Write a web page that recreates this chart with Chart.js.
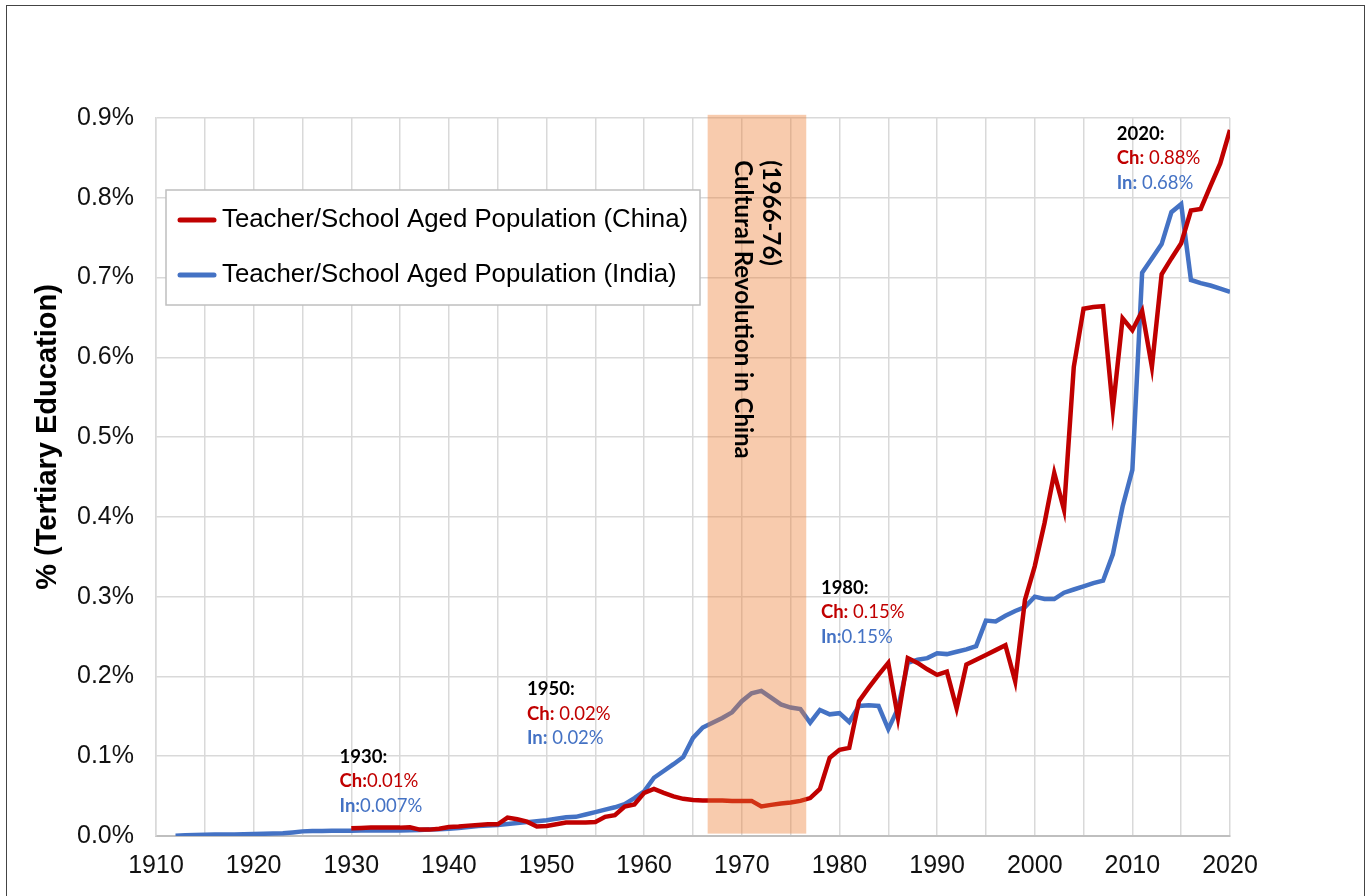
<!DOCTYPE html>
<html>
<head>
<meta charset="utf-8">
<script src="https://cdn.jsdelivr.net/npm/chart.js@4.4.1/dist/chart.umd.min.js"></script>
<style>
  html, body { margin: 0; padding: 0; background: #fff; }
  #wrap { position: relative; width: 1371px; height: 896px; overflow: hidden; }
  #frame { position: absolute; left: 6px; top: 5px; width: 1359px; height: 900px; border: 1px solid #444; box-sizing: border-box; pointer-events: none; }
  canvas { position: absolute; left: 0; top: 0; }
</style>
</head>
<body>
<div id="wrap">
  <canvas id="chart" width="1371" height="896"></canvas>
  <div id="frame"></div>
</div>
<script>
// years 1912..2020
var years = [1912,1913,1914,1915,1916,1917,1918,1919,1920,1921,1922,1923,1924,1925,1926,1927,1928,1929,
  1930,1931,1932,1933,1934,1935,1936,1937,1938,1939,1940,1941,1942,1943,1944,1945,1946,1947,1948,1949,
  1950,1951,1952,1953,1954,1955,1956,1957,1958,1959,1960,1961,1962,1963,1964,1965,1966,1967,1968,1969,
  1970,1971,1972,1973,1974,1975,1976,1977,1978,1979,1980,1981,1982,1983,1984,1985,1986,1987,1988,1989,
  1990,1991,1992,1993,1994,1995,1996,1997,1998,1999,2000,2001,2002,2003,2004,2005,2006,2007,2008,2009,
  2010,2011,2012,2013,2014,2015,2016,2017,2018,2019,2020];

// % teachers / school aged population
var china = [null,null,null,null,null,null,null,null,null,null,null,null,null,null,null,null,null,null,
  0.0096,0.0100,0.0105,0.0105,0.0105,0.0105,0.0110,0.0080,0.0080,0.0090,0.0113,0.0120,0.0130,0.0138,0.0147,0.0147,0.0230,0.0210,0.0180,0.0120,
  0.0126,0.0147,0.0168,0.0170,0.0170,0.0176,0.0240,0.0260,0.0370,0.0395,0.0540,0.0590,0.0540,0.0496,0.0466,0.0450,0.0445,0.0445,0.0445,0.0440,
  0.0440,0.0440,0.0370,0.0390,0.0408,0.0420,0.0440,0.0475,0.0590,0.0980,0.1080,0.1105,0.169,0.186,0.202,0.217,0.148,0.223,0.217,0.209,
  0.202,0.206,0.160,0.215,0.221,0.227,0.233,0.239,0.194,0.296,0.338,0.392,0.455,0.409,0.588,0.661,0.663,0.664,0.535,0.649,
  0.634,0.658,0.588,0.704,0.724,0.743,0.784,0.786,0.815,0.843,0.885];

var india = [0.0004,0.0008,0.0012,0.0017,0.0018,0.0019,0.0020,0.0022,0.0025,0.0028,0.0031,0.0034,0.0045,0.0058,0.0063,0.0064,0.0065,0.0066,
  0.0067,0.0068,0.0068,0.0069,0.0069,0.0070,0.0073,0.0076,0.0080,0.0086,0.0092,0.0100,0.0113,0.0126,0.0132,0.0138,0.0150,0.0162,0.0174,0.0185,
  0.0197,0.0215,0.0235,0.0240,0.0270,0.0300,0.0330,0.0360,0.0400,0.0475,0.056,0.073,0.0815,0.090,0.099,0.123,0.136,0.142,0.148,0.155,
  0.169,0.179,0.182,0.1735,0.165,0.161,0.159,0.142,0.158,0.1525,0.154,0.143,0.163,0.164,0.163,0.134,0.160,0.217,0.221,0.223,
  0.229,0.228,0.231,0.234,0.238,0.270,0.269,0.276,0.282,0.287,0.300,0.297,0.297,0.305,0.309,0.313,0.317,0.320,0.353,0.413,
  0.459,0.706,0.724,0.742,0.782,0.792,0.697,0.693,0.690,0.686,0.682];

var seriesNames = ['Teacher/School Aged Population (China)', 'Teacher/School Aged Population (India)'];
var seriesColors = ['#C00000', '#4472C4'];
var yTitle = '% (Tertiary Education)';

var bandStart = 1966.5, bandEnd = 1976.6;
var bandLines = ['(1966-76)', 'Cultural Revolution in China'];

// callouts: anchor year / value, then the three lines
var notes = [
  { year: 1928.8, val: 0.099, head: '1930:', ch: '0.01%', inn: '0.007%', gap: '' },
  { year: 1948.0, val: 0.184, head: '1950:', ch: '0.02%', inn: '0.02%', gap: ' ' },
  { year: 1978.1, val: 0.311, head: '1980:', ch: '0.15%', inn: '0.15%', gap: ' ', inGap: '' },
  { year: 2008.4, val: 0.880, head: '2020:', ch: '0.88%', inn: '0.68%', gap: ' ' }
];

function pts(arr) {
  return years.map(function (y, i) { return { x: y, y: arr[i] }; });
}

var overlay = {
  id: 'overlay',
  afterDatasetsDraw: function (chart) {
    var ctx = chart.ctx, xs = chart.scales.x, ys = chart.scales.y;
    // cultural revolution band
    var x0 = xs.getPixelForValue(bandStart), x1 = xs.getPixelForValue(bandEnd);
    var yt = ys.getPixelForValue(0.904), yb = ys.getPixelForValue(0.003);
    ctx.save();
    ctx.fillStyle = 'rgba(237,125,49,0.4)';
    ctx.fillRect(x0, yt, x1 - x0, yb - yt);
    ctx.fillStyle = '#000';
    ctx.font = 'bold 24px Lato';
    ctx.textBaseline = 'middle';
    ctx.textAlign = 'left';
    ctx.translate((x0 + x1) / 2, ys.getPixelForValue(0.847));
    ctx.rotate(Math.PI / 2);
    ctx.fillText(bandLines[0], 0, -14);
    ctx.fillText(bandLines[1], 0, 14);
    ctx.restore();

    // callouts
    ctx.save();
    ctx.textBaseline = 'middle';
    ctx.textAlign = 'left';
    notes.forEach(function (n) {
      var x = xs.getPixelForValue(n.year), y = ys.getPixelForValue(n.val);
      ctx.font = 'bold 18.5px Lato';
      ctx.fillStyle = '#000';
      ctx.fillText(n.head, x, y);
      ctx.fillStyle = seriesColors[0];
      var lab = 'Ch:';
      ctx.fillText(lab, x, y + 24.5);
      var w = ctx.measureText(lab).width;
      ctx.font = '18.5px Lato';
      ctx.fillText(n.gap + n.ch, x + w, y + 24.5);
      ctx.font = 'bold 18.5px Lato';
      ctx.fillStyle = seriesColors[1];
      lab = 'In:';
      ctx.fillText(lab, x, y + 49);
      w = ctx.measureText(lab).width;
      ctx.font = '18.5px Lato';
      var g = n.inGap !== undefined ? n.inGap : n.gap;
      ctx.fillText(g + n.inn, x + w, y + 49);
    });
    ctx.restore();

    // legend box
    ctx.save();
    ctx.fillStyle = '#fff';
    ctx.fillRect(166, 190, 534, 115);
    ctx.strokeStyle = '#bfbfbf';
    ctx.lineWidth = 1.5;
    ctx.strokeRect(166, 190, 534, 115);
    ctx.font = '25.8px "Liberation Sans", Arial';
    ctx.textBaseline = 'middle';
    ctx.lineCap = 'round';
    seriesNames.forEach(function (name, i) {
      var cy = 220 + i * 55;
      ctx.strokeStyle = seriesColors[i];
      ctx.lineWidth = 5;
      ctx.beginPath();
      ctx.moveTo(180, cy);
      ctx.lineTo(214, cy);
      ctx.stroke();
      ctx.fillStyle = '#000';
      ctx.fillText(name, 222, cy);
    });
    ctx.restore();

    // y axis title
    ctx.save();
    ctx.fillStyle = '#000';
    ctx.font = 'bold 29px "Liberation Sans", Arial';
    ctx.textAlign = 'center';
    ctx.textBaseline = 'middle';
    ctx.translate(48, 437);
    ctx.rotate(-Math.PI / 2);
    ctx.fillText(yTitle, 0, 0);
    ctx.restore();
  }
};

new Chart(document.getElementById('chart'), {
  type: 'line',
  data: {
    datasets: [
      { label: seriesNames[0], data: pts(china), borderColor: seriesColors[0], borderWidth: 4.5,
        pointRadius: 0, tension: 0, spanGaps: false },
      { label: seriesNames[1], data: pts(india), borderColor: seriesColors[1], borderWidth: 4.5,
        pointRadius: 0, tension: 0 }
    ]
  },
  options: {
    responsive: false,
    animation: false,
    layout: { padding: { left: 0, right: 141, top: 118, bottom: 0 } },
    plugins: { legend: { display: false }, tooltip: { enabled: false } },
    scales: {
      x: {
        type: 'linear', min: 1910, max: 2020,
        afterFit: function (s) { s.height = 60; },
        grid: { color: '#d9d9d9', lineWidth: 1.5, drawTicks: false },
        border: { color: '#bfbfbf', width: 2 },
        ticks: {
          stepSize: 5, autoSkip: false, maxRotation: 0, padding: 15,
          color: '#111', font: { family: '"Liberation Sans", Arial', size: 25 },
          callback: function (v) { return v % 10 === 0 ? String(v) : ''; }
        }
      },
      y: {
        min: 0, max: 0.9,
        afterFit: function (s) { s.width = 156; },
        grid: { color: '#d9d9d9', lineWidth: 1.5, drawTicks: false },
        border: { color: '#d9d9d9', width: 1.5 },
        ticks: {
          stepSize: 0.1, padding: 22,
          color: '#111', font: { family: '"Liberation Sans", Arial', size: 25 },
          callback: function (v) { return v.toFixed(1) + '%'; }
        }
      }
    }
  },
  plugins: [overlay]
});
</script>
</body>
</html>
